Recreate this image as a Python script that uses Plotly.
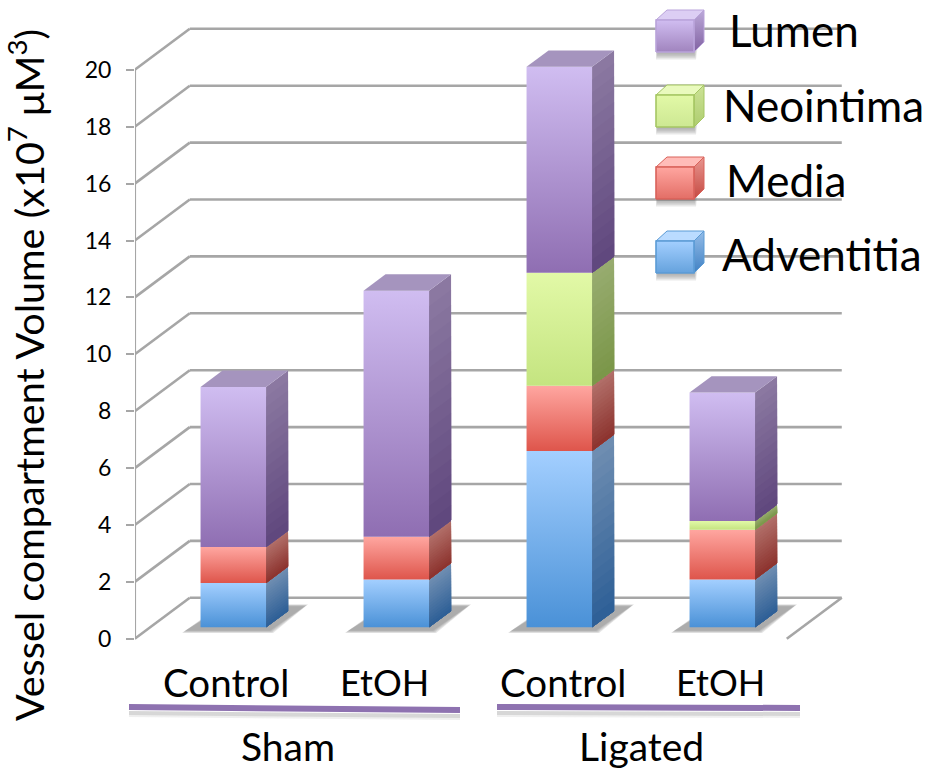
import plotly.graph_objects as go

# Stacked compartment volumes, x10^7 uM^3
treatments = ["Control", "EtOH", "Control", "EtOH"]
groups = ["Sham", "Ligated"]
adventitia = [1.56, 1.68, 6.20, 1.68]
media = [1.26, 1.50, 2.29, 1.75]
neointima = [0.0, 0.0, 3.97, 0.31]
lumen = [5.63, 8.65, 7.24, 4.51]
y_ticks = list(range(0, 21, 2))

FONT = "Lato"
GRID = "#A6A6A6"

# series: name, values, front (bottom, top), side (bottom, top), top face, legend edge
SERIES = [
    ("Adventitia", adventitia, ((74, 145, 215), (163, 207, 255)), ((45, 95, 150), (112, 142, 178)), "#7FA0C8", "#5B9BD5"),
    ("Media", media, ((222, 85, 75), (255, 166, 160)), ((140, 50, 45), (178, 112, 106)), "#C98F8C", "#D9625A"),
    ("Neointima", neointima, ((196, 228, 128), (226, 249, 167)), ((122, 150, 72), (152, 172, 112)), "#B4C98F", "#A5C663"),
    ("Lumen", lumen, ((143, 110, 178), (208, 189, 241)), ((95, 70, 125), (140, 122, 162)), "#A594BE", "#B9A3DA"),
]

# Page and plot-area layout in pixels
W, H = 928, 769
M_L, M_B = 135, 19
Y0_PX, PX_PER_V = 638.8, 28.45
X0_PX, PX_PER_SLOT = 217.9, 163.0

# Oblique projection of the floor depth
WALL_DX, WALL_DY = 55.0, 41.0
BAR_Z0, BAR_Z1 = 0.28, 0.68
BAR_HALF = 32.75 / PX_PER_SLOT
WALL_L, WALL_R = -0.51, 3.49


def dx(px):
    return px / PX_PER_SLOT


def dv(px):
    return px / PX_PER_V


def px_x(px):
    return (px - X0_PX) / PX_PER_SLOT


def px_y(py):
    return (Y0_PX - py) / PX_PER_V


def proj(x, v, z):
    return x + z * dx(WALL_DX), v + z * dv(WALL_DY)


def rgb(c):
    return f"rgb({c[0]},{c[1]},{c[2]})"


def mix(a, b, t):
    return tuple(round(a[i] + (b[i] - a[i]) * t) for i in range(3))


fig = go.Figure()


def poly(pts, fill, line=None, lw=0):
    fig.add_trace(go.Scatter(
        x=[p[0] for p in pts] + [pts[0][0]], y=[p[1] for p in pts] + [pts[0][1]],
        mode="lines", fill="toself", fillcolor=fill,
        line=dict(width=lw, color=line or "rgba(0,0,0,0)"),
        hoverinfo="skip", showlegend=False,
    ))


def grad_poly(pts, bottom, top, line=None, lw=0):
    ys = [p[1] for p in pts]
    fig.add_trace(go.Scatter(
        x=[p[0] for p in pts] + [pts[0][0]], y=ys + [ys[0]],
        mode="lines", fill="toself",
        fillgradient=dict(type="vertical", start=min(ys), stop=max(ys),
                          colorscale=[[0, rgb(bottom)], [1, rgb(top)]]),
        line=dict(width=lw, color=line or "rgba(0,0,0,0)"),
        hoverinfo="skip", showlegend=False,
    ))


def seg(xs, ys, color=GRID, w=2.6):
    fig.add_trace(go.Scatter(x=xs, y=ys, mode="lines", line=dict(color=color, width=w),
                             hoverinfo="skip", showlegend=False))


def sheared_side(x0, x1, s0, s1, v0, v1, bottom, top, steps=16):
    # Side face shaded along its slant; tallest band first so the bands overlap
    for k in range(steps, 0, -1):
        t = k / steps
        vt = v0 + (v1 - v0) * t
        c = mix(bottom, top, (k - 0.5) / steps)
        poly([(x0, v0 + s0), (x1, v0 + s1), (x1, vt + s1), (x0, vt + s0)], rgb(c))


# Walls and gridlines
for t in y_ticks:
    bx, bv = proj(WALL_R, t, 1)
    lx, lv = proj(WALL_L, t, 1)
    seg([lx, bx], [lv, bv])
    seg([WALL_L, lx], [t, lv])
fx, fv = proj(WALL_R, 0, 0)
bx, bv = proj(WALL_R, 0, 1)
seg([fx, bx], [fv, bv])
seg([WALL_L, WALL_L], [y_ticks[0], y_ticks[-1]])

# Floor shadows
for i in range(len(treatments)):
    fl_x, fl_v = proj(i, 0, BAR_Z0)
    left = fl_x - BAR_HALF
    for grow in (3, 2, 1, 0):
        a = dx(-15.5 - grow)
        b = dx(69.5 + grow)
        c = dx(104.5 + grow)
        d = dx(24.5 - grow)
        base = fl_v - dv(3.5 + grow * 0.7)
        topv = fl_v + dv(21 + grow * 0.7)
        poly([(left + a, base), (left + b, base), (left + c, topv), (left + d, topv)],
             "rgba(95,95,95,0.16)")

# Stacked bars
for i in range(len(treatments)):
    fx0, fv0 = proj(i, 0, BAR_Z0)
    bx0, bv0 = proj(i, 0, BAR_Z1)
    xl, xr = fx0 - BAR_HALF, fx0 + BAR_HALF
    side_x = bx0 + BAR_HALF
    level = 0.0
    top_face = None
    for name, vals, front, side, tcol, _ in SERIES:
        h = vals[i]
        if h <= 0:
            continue
        lo, hi = level, level + h
        sheared_side(xr, side_x, fv0, bv0, lo, hi, side[0], side[1])
        grad_poly([(xl, lo + fv0), (xr, lo + fv0), (xr, hi + fv0), (xl, hi + fv0)],
                  front[0], front[1])
        level = hi
        top_face = tcol
    poly([(xl, level + fv0), (xr, level + fv0), (side_x, level + bv0),
          (bx0 - BAR_HALF, level + bv0)], top_face)

# Legend cubes
CUBE_TOPS = {"Lumen": 20, "Neointima": 95, "Media": 167, "Adventitia": 241}
LEGEND_TEXT = {"Lumen": (727, 30), "Neointima": (721, 105), "Media": (724, 180), "Adventitia": (720, 254)}
for name, _, front, side, tcol, edge in SERIES[::-1]:
    t = CUBE_TOPS[name]
    l, r, b = 656, 694, t + 32
    for g in (4, 3, 2, 1):
        poly([(px_x(l + 2 - g * 0.5), px_y(b + 1 + g * 1.6)), (px_x(r + g * 0.5), px_y(b + 1 + g * 1.6)),
              (px_x(r + g), px_y(b - 8)), (px_x(l), px_y(b - 8))], "rgba(110,110,110,0.16)")
    lit = mix(front[1], (255, 255, 255), 0.25)
    grad_poly([(px_x(r), px_y(b)), (px_x(r + 10), px_y(b - 10)), (px_x(r + 10), px_y(t - 10)), (px_x(r), px_y(t))],
              mix(front[0], side[0], 0.3), mix(front[1], side[1], 0.3), edge, 1)
    poly([(px_x(l), px_y(t)), (px_x(r), px_y(t)), (px_x(r + 10), px_y(t - 10)), (px_x(l + 11), px_y(t - 10))],
         rgb(lit), edge, 1)
    grad_poly([(px_x(l), px_y(b)), (px_x(r), px_y(b)), (px_x(r), px_y(t)), (px_x(l), px_y(t))],
              mix(front[0], (255, 255, 255), 0.15), front[1], edge, 1.6)


def paper_x(px):
    return (px - M_L) / (W - M_L)


def paper_y(py):
    return 1 - py / (H - M_B)


annotations = []


def label(text, px, py, size, anchor="center"):
    annotations.append(dict(text=text, xref="paper", yref="paper", x=paper_x(px), y=paper_y(py),
                            xanchor=anchor, yanchor="middle", showarrow=False,
                            font=dict(family=FONT, size=size, color="black")))


for name, (lx, ly) in LEGEND_TEXT.items():
    label(name, lx, ly, 44, "left")
for txt, px, size in zip(treatments, (226, 384, 563, 720), (38.5, 36, 38.5, 36)):
    label(txt, px, 682, size)
label(groups[0], 288, 746, 39)
label(groups[1], 641, 746, 39)

shapes = []
for x0, y0, x1, y1 in ((129, 707, 460, 710), (497, 707, 800, 708)):
    for off, width, col in ((7, 6, "rgba(120,120,120,0.12)"), (6, 4, "rgba(120,120,120,0.2)"),
                            (0, 6, "#8E72B0")):
        shapes.append(dict(type="line", xref="paper", yref="paper", x0=paper_x(x0), y0=paper_y(y0 + off),
                           x1=paper_x(x1), y1=paper_y(y1 + off), line=dict(color=col, width=width)))

fig.update_layout(
    width=W, height=H, autosize=False,
    margin=dict(l=M_L, r=0, t=0, b=M_B, pad=0),
    paper_bgcolor="white", plot_bgcolor="white", showlegend=False,
    annotations=annotations, shapes=shapes,
    xaxis=dict(range=[px_x(M_L), px_x(W)], visible=False, fixedrange=True),
    yaxis=dict(
        range=[px_y(H - M_B), px_y(0)], tickvals=y_ticks, ticktext=[str(t) for t in y_ticks],
        showgrid=False, zeroline=False, showline=False, ticks="outside", ticklen=8, tickwidth=2,
        tickcolor=GRID, ticklabelstandoff=10, tickfont=dict(family=FONT, size=23, color="black"),
        title=dict(text="Vessel compartment Volume (x10<sup>7</sup> μM<sup>3</sup>)",
                   font=dict(family=FONT, size=39.6, color="black"), standoff=30),
        fixedrange=True,
    ),
)

fig.write_html("out.html", config={"displayModeBar": False})
